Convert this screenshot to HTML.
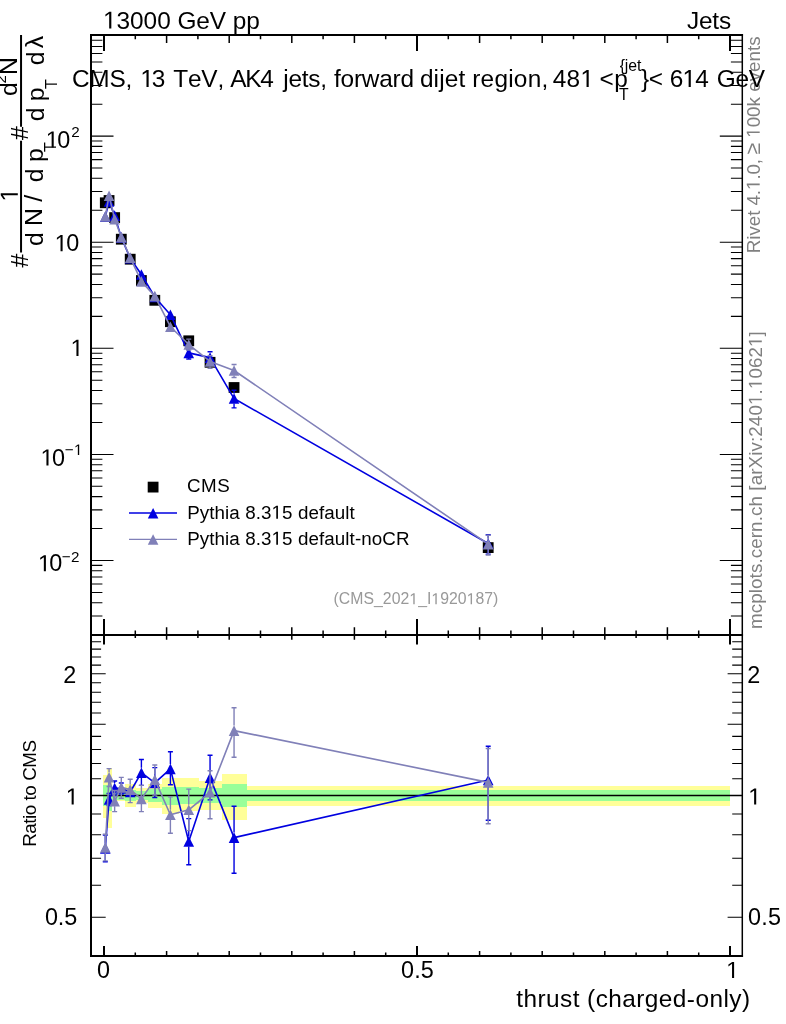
<!DOCTYPE html>
<html><head><meta charset="utf-8"><title>plot</title>
<style>html,body{margin:0;padding:0;background:#fff}svg{display:block;will-change:transform}</style>
</head><body>
<svg width="786" height="1024" viewBox="0 0 786 1024">
<rect x="0" y="0" width="786" height="1024" fill="#ffffff"/>
<g shape-rendering="crispEdges">
<rect x="103.1" y="775.0" width="3.5" height="42.6" fill="#ffff99"/>
<rect x="106.6" y="768.2" width="5.0" height="59.6" fill="#ffff99"/>
<rect x="111.6" y="789.8" width="6.3" height="11.2" fill="#ffff99"/>
<rect x="117.9" y="790.0" width="6.9" height="10.8" fill="#ffff99"/>
<rect x="124.8" y="784.0" width="10.7" height="22.9" fill="#ffff99"/>
<rect x="135.5" y="787.6" width="12.2" height="15.7" fill="#ffff99"/>
<rect x="147.7" y="783.5" width="14.1" height="24.9" fill="#ffff99"/>
<rect x="161.8" y="778.2" width="17.1" height="35.8" fill="#ffff99"/>
<rect x="178.9" y="778.0" width="19.7" height="33.3" fill="#ffff99"/>
<rect x="198.6" y="780.6" width="22.9" height="29.8" fill="#ffff99"/>
<rect x="221.5" y="774.1" width="25.2" height="45.6" fill="#ffff99"/>
<rect x="246.7" y="786.2" width="483.1" height="19.3" fill="#ffff99"/>
<rect x="103.1" y="785.2" width="3.5" height="21.1" fill="#99ff99"/>
<rect x="106.6" y="785.2" width="5.0" height="25.4" fill="#99ff99"/>
<rect x="111.6" y="791.5" width="6.3" height="8.1" fill="#99ff99"/>
<rect x="117.9" y="791.6" width="6.9" height="7.9" fill="#99ff99"/>
<rect x="124.8" y="789.6" width="10.7" height="11.7" fill="#99ff99"/>
<rect x="135.5" y="791.1" width="12.2" height="9.2" fill="#99ff99"/>
<rect x="147.7" y="789.0" width="14.1" height="13.3" fill="#99ff99"/>
<rect x="161.8" y="786.6" width="17.1" height="18.3" fill="#99ff99"/>
<rect x="178.9" y="786.5" width="19.7" height="17.9" fill="#99ff99"/>
<rect x="198.6" y="787.8" width="22.9" height="15.3" fill="#99ff99"/>
<rect x="221.5" y="784.2" width="25.2" height="22.5" fill="#99ff99"/>
<rect x="246.7" y="790.2" width="483.1" height="10.6" fill="#99ff99"/>
</g>
<line x1="91.0" y1="795.6" x2="742.3" y2="795.6" stroke="#000" stroke-width="1.5"/>
<g id="main">
<rect x="99.90" y="197.40" width="10.80" height="10.80" fill="#000"/>
<rect x="103.65" y="195.10" width="10.80" height="10.80" fill="#000"/>
<rect x="109.25" y="212.20" width="10.80" height="10.80" fill="#000"/>
<rect x="115.90" y="233.80" width="10.80" height="10.80" fill="#000"/>
<rect x="124.80" y="253.80" width="10.80" height="10.80" fill="#000"/>
<rect x="136.00" y="275.10" width="10.80" height="10.80" fill="#000"/>
<rect x="149.40" y="294.90" width="10.80" height="10.80" fill="#000"/>
<rect x="165.00" y="316.30" width="10.80" height="10.80" fill="#000"/>
<rect x="183.35" y="335.40" width="10.80" height="10.80" fill="#000"/>
<rect x="204.65" y="356.90" width="10.80" height="10.80" fill="#000"/>
<rect x="228.65" y="382.10" width="10.80" height="10.80" fill="#000"/>
<rect x="482.80" y="542.20" width="10.80" height="10.80" fill="#000"/>
<path d="M105.30,216.67 L109.05,201.52 L114.65,215.63 L121.30,237.36 L130.20,258.28 L141.40,274.52 L154.80,297.00 L170.40,314.72 L188.75,352.86 L210.05,357.61 L234.05,398.54 L488.20,543.54" fill="none" stroke="#0000e0" stroke-width="1.6" stroke-linejoin="round"/>
<path d="M188.75,347.86 V346.86 M186.25,346.86 h5.00 M188.75,357.86 V358.95 M186.25,358.95 h5.00 " stroke="#0000e0" stroke-width="1.4" fill="none"/>
<path d="M210.05,352.61 V351.73 M207.55,351.73 h5.00 M210.05,362.61 V363.45 M207.55,363.45 h5.00 " stroke="#0000e0" stroke-width="1.4" fill="none"/>
<path d="M234.05,393.54 V390.31 M231.55,390.31 h5.00 M234.05,403.54 V407.88 M231.55,407.88 h5.00 " stroke="#0000e0" stroke-width="1.4" fill="none"/>
<path d="M488.20,538.54 V534.70 M485.70,534.70 h5.00 M488.20,548.54 V554.08 M485.70,554.08 h5.00 " stroke="#0000e0" stroke-width="1.4" fill="none"/>
<path d="M100.00,221.97 L110.60,221.97 L105.30,211.37 Z" fill="#0000e0"/>
<path d="M103.75,206.82 L114.35,206.82 L109.05,196.22 Z" fill="#0000e0"/>
<path d="M109.35,220.93 L119.95,220.93 L114.65,210.33 Z" fill="#0000e0"/>
<path d="M116.00,242.66 L126.60,242.66 L121.30,232.06 Z" fill="#0000e0"/>
<path d="M124.90,263.58 L135.50,263.58 L130.20,252.98 Z" fill="#0000e0"/>
<path d="M136.10,279.82 L146.70,279.82 L141.40,269.22 Z" fill="#0000e0"/>
<path d="M149.50,302.30 L160.10,302.30 L154.80,291.70 Z" fill="#0000e0"/>
<path d="M165.10,320.02 L175.70,320.02 L170.40,309.42 Z" fill="#0000e0"/>
<path d="M183.45,358.16 L194.05,358.16 L188.75,347.56 Z" fill="#0000e0"/>
<path d="M204.75,362.91 L215.35,362.91 L210.05,352.31 Z" fill="#0000e0"/>
<path d="M228.75,403.84 L239.35,403.84 L234.05,393.24 Z" fill="#0000e0"/>
<path d="M482.90,548.84 L493.50,548.84 L488.20,538.24 Z" fill="#0000e0"/>
<path d="M105.30,216.44 L109.05,195.73 L114.65,219.09 L121.30,237.08 L130.20,257.65 L141.40,281.39 L154.80,296.13 L170.40,326.73 L188.75,344.55 L210.05,361.46 L234.05,370.48 L488.20,544.16" fill="none" stroke="#8080b8" stroke-width="1.6" stroke-linejoin="round"/>
<path d="M188.75,339.55 V339.12 M186.25,339.12 h5.00 M188.75,349.55 V350.00 M186.25,350.00 h5.00 " stroke="#8080b8" stroke-width="1.4" fill="none"/>
<path d="M210.05,356.46 V355.82 M207.55,355.82 h5.00 M210.05,366.46 V368.41 M207.55,368.41 h5.00 " stroke="#8080b8" stroke-width="1.4" fill="none"/>
<path d="M234.05,365.48 V364.48 M231.55,364.48 h5.00 M234.05,375.48 V377.46 M231.55,377.46 h5.00 " stroke="#8080b8" stroke-width="1.4" fill="none"/>
<path d="M488.20,539.16 V535.27 M485.70,535.27 h5.00 M488.20,549.16 V555.02 M485.70,555.02 h5.00 " stroke="#8080b8" stroke-width="1.4" fill="none"/>
<path d="M100.00,221.74 L110.60,221.74 L105.30,211.14 Z" fill="#8080b8"/>
<path d="M103.75,201.03 L114.35,201.03 L109.05,190.43 Z" fill="#8080b8"/>
<path d="M109.35,224.39 L119.95,224.39 L114.65,213.79 Z" fill="#8080b8"/>
<path d="M116.00,242.38 L126.60,242.38 L121.30,231.78 Z" fill="#8080b8"/>
<path d="M124.90,262.95 L135.50,262.95 L130.20,252.35 Z" fill="#8080b8"/>
<path d="M136.10,286.69 L146.70,286.69 L141.40,276.09 Z" fill="#8080b8"/>
<path d="M149.50,301.43 L160.10,301.43 L154.80,290.83 Z" fill="#8080b8"/>
<path d="M165.10,332.03 L175.70,332.03 L170.40,321.43 Z" fill="#8080b8"/>
<path d="M183.45,349.85 L194.05,349.85 L188.75,339.25 Z" fill="#8080b8"/>
<path d="M204.75,366.76 L215.35,366.76 L210.05,356.16 Z" fill="#8080b8"/>
<path d="M228.75,375.78 L239.35,375.78 L234.05,365.18 Z" fill="#8080b8"/>
<path d="M482.90,549.46 L493.50,549.46 L488.20,538.86 Z" fill="#8080b8"/>
</g>
<g id="ratio">
<path d="M105.30,848.40 L109.05,799.40 L114.65,788.00 L121.30,788.50 L130.20,792.00 L141.40,772.70 L154.80,782.90 L170.40,768.90 L188.75,841.50 L210.05,777.60 L234.05,837.60 L488.20,780.00" fill="none" stroke="#0000e0" stroke-width="1.6" stroke-linejoin="round"/>
<path d="M105.30,843.40 V835.00 M102.80,835.00 h5.00 M105.30,853.40 V861.80 M102.80,861.80 h5.00 " stroke="#0000e0" stroke-width="1.4" fill="none"/>
<path d="M109.05,794.40 V793.50 M106.55,793.50 h5.00 M109.05,804.40 V805.50 M106.55,805.50 h5.00 " stroke="#0000e0" stroke-width="1.4" fill="none"/>
<path d="M114.65,783.00 V781.00 M112.15,781.00 h5.00 M114.65,793.00 V795.00 M112.15,795.00 h5.00 " stroke="#0000e0" stroke-width="1.4" fill="none"/>
<path d="M121.30,783.50 V783.00 M118.80,783.00 h5.00 M121.30,793.50 V794.00 M118.80,794.00 h5.00 " stroke="#0000e0" stroke-width="1.4" fill="none"/>
<path d="M141.40,767.70 V759.50 M138.90,759.50 h5.00 M141.40,777.70 V785.40 M138.90,785.40 h5.00 " stroke="#0000e0" stroke-width="1.4" fill="none"/>
<path d="M154.80,777.90 V767.60 M152.30,767.60 h5.00 M154.80,787.90 V797.60 M152.30,797.60 h5.00 " stroke="#0000e0" stroke-width="1.4" fill="none"/>
<path d="M170.40,763.90 V751.80 M167.90,751.80 h5.00 M170.40,773.90 V784.70 M167.90,784.70 h5.00 " stroke="#0000e0" stroke-width="1.4" fill="none"/>
<path d="M188.75,836.50 V818.60 M186.25,818.60 h5.00 M188.75,846.50 V864.70 M186.25,864.70 h5.00 " stroke="#0000e0" stroke-width="1.4" fill="none"/>
<path d="M210.05,772.60 V755.20 M207.55,755.20 h5.00 M210.05,782.60 V799.90 M207.55,799.90 h5.00 " stroke="#0000e0" stroke-width="1.4" fill="none"/>
<path d="M234.05,832.60 V806.20 M231.55,806.20 h5.00 M234.05,842.60 V873.20 M231.55,873.20 h5.00 " stroke="#0000e0" stroke-width="1.4" fill="none"/>
<path d="M488.20,775.00 V746.30 M485.70,746.30 h5.00 M488.20,785.00 V820.20 M485.70,820.20 h5.00 " stroke="#0000e0" stroke-width="1.4" fill="none"/>
<path d="M100.00,853.70 L110.60,853.70 L105.30,843.10 Z" fill="#0000e0"/>
<path d="M103.75,804.70 L114.35,804.70 L109.05,794.10 Z" fill="#0000e0"/>
<path d="M109.35,793.30 L119.95,793.30 L114.65,782.70 Z" fill="#0000e0"/>
<path d="M116.00,793.80 L126.60,793.80 L121.30,783.20 Z" fill="#0000e0"/>
<path d="M124.90,797.30 L135.50,797.30 L130.20,786.70 Z" fill="#0000e0"/>
<path d="M136.10,778.00 L146.70,778.00 L141.40,767.40 Z" fill="#0000e0"/>
<path d="M149.50,788.20 L160.10,788.20 L154.80,777.60 Z" fill="#0000e0"/>
<path d="M165.10,774.20 L175.70,774.20 L170.40,763.60 Z" fill="#0000e0"/>
<path d="M183.45,846.80 L194.05,846.80 L188.75,836.20 Z" fill="#0000e0"/>
<path d="M204.75,782.90 L215.35,782.90 L210.05,772.30 Z" fill="#0000e0"/>
<path d="M228.75,842.90 L239.35,842.90 L234.05,832.30 Z" fill="#0000e0"/>
<path d="M482.90,785.30 L493.50,785.30 L488.20,774.70 Z" fill="#0000e0"/>
<path d="M105.30,847.50 L109.05,777.30 L114.65,801.20 L121.30,787.40 L130.20,789.60 L141.40,798.90 L154.80,779.60 L170.40,814.70 L188.75,809.80 L210.05,792.30 L234.05,730.60 L488.20,782.40" fill="none" stroke="#8080b8" stroke-width="1.6" stroke-linejoin="round"/>
<path d="M105.30,842.50 V834.20 M102.80,834.20 h5.00 M105.30,852.50 V860.90 M102.80,860.90 h5.00 " stroke="#8080b8" stroke-width="1.4" fill="none"/>
<path d="M109.05,772.30 V768.60 M106.55,768.60 h5.00 M109.05,782.30 V786.50 M106.55,786.50 h5.00 " stroke="#8080b8" stroke-width="1.4" fill="none"/>
<path d="M114.65,796.20 V790.50 M112.15,790.50 h5.00 M114.65,806.20 V811.60 M112.15,811.60 h5.00 " stroke="#8080b8" stroke-width="1.4" fill="none"/>
<path d="M121.30,782.40 V777.40 M118.80,777.40 h5.00 M121.30,792.40 V798.20 M118.80,798.20 h5.00 " stroke="#8080b8" stroke-width="1.4" fill="none"/>
<path d="M130.20,784.60 V779.20 M127.70,779.20 h5.00 M130.20,794.60 V802.60 M127.70,802.60 h5.00 " stroke="#8080b8" stroke-width="1.4" fill="none"/>
<path d="M141.40,793.90 V785.40 M138.90,785.40 h5.00 M141.40,803.90 V811.60 M138.90,811.60 h5.00 " stroke="#8080b8" stroke-width="1.4" fill="none"/>
<path d="M154.80,774.60 V765.00 M152.30,765.00 h5.00 M154.80,784.60 V795.00 M152.30,795.00 h5.00 " stroke="#8080b8" stroke-width="1.4" fill="none"/>
<path d="M170.40,809.70 V796.90 M167.90,796.90 h5.00 M170.40,819.70 V833.30 M167.90,833.30 h5.00 " stroke="#8080b8" stroke-width="1.4" fill="none"/>
<path d="M188.75,804.80 V789.10 M186.25,789.10 h5.00 M188.75,814.80 V830.60 M186.25,830.60 h5.00 " stroke="#8080b8" stroke-width="1.4" fill="none"/>
<path d="M210.05,787.30 V770.80 M207.55,770.80 h5.00 M210.05,797.30 V818.80 M207.55,818.80 h5.00 " stroke="#8080b8" stroke-width="1.4" fill="none"/>
<path d="M234.05,725.60 V707.70 M231.55,707.70 h5.00 M234.05,735.60 V757.20 M231.55,757.20 h5.00 " stroke="#8080b8" stroke-width="1.4" fill="none"/>
<path d="M488.20,777.40 V748.50 M485.70,748.50 h5.00 M488.20,787.40 V823.80 M485.70,823.80 h5.00 " stroke="#8080b8" stroke-width="1.4" fill="none"/>
<path d="M100.00,852.80 L110.60,852.80 L105.30,842.20 Z" fill="#8080b8"/>
<path d="M103.75,782.60 L114.35,782.60 L109.05,772.00 Z" fill="#8080b8"/>
<path d="M109.35,806.50 L119.95,806.50 L114.65,795.90 Z" fill="#8080b8"/>
<path d="M116.00,792.70 L126.60,792.70 L121.30,782.10 Z" fill="#8080b8"/>
<path d="M124.90,794.90 L135.50,794.90 L130.20,784.30 Z" fill="#8080b8"/>
<path d="M136.10,804.20 L146.70,804.20 L141.40,793.60 Z" fill="#8080b8"/>
<path d="M149.50,784.90 L160.10,784.90 L154.80,774.30 Z" fill="#8080b8"/>
<path d="M165.10,820.00 L175.70,820.00 L170.40,809.40 Z" fill="#8080b8"/>
<path d="M183.45,815.10 L194.05,815.10 L188.75,804.50 Z" fill="#8080b8"/>
<path d="M204.75,797.60 L215.35,797.60 L210.05,787.00 Z" fill="#8080b8"/>
<path d="M228.75,735.90 L239.35,735.90 L234.05,725.30 Z" fill="#8080b8"/>
<path d="M482.90,787.70 L493.50,787.70 L488.20,777.10 Z" fill="#8080b8"/>
</g>
<g stroke="#000" fill="none">
<path d="M91.0,35.0 V956.0 M90.0,35.0 H743.05 M90.0,635.0 H743.05 M90.0,956.0 H743.05" stroke-width="2" stroke-linecap="butt"/>
<path d="M742.3,34.0 V957.0" stroke-width="1.5"/>
<path d="M91.0,615.98 h11.4 M742.3,615.98 h-11.4 M91.0,602.72 h11.4 M742.3,602.72 h-11.4 M91.0,592.44 h11.4 M742.3,592.44 h-11.4 M91.0,584.04 h11.4 M742.3,584.04 h-11.4 M91.0,576.94 h11.4 M742.3,576.94 h-11.4 M91.0,570.78 h11.4 M742.3,570.78 h-11.4 M91.0,565.35 h11.4 M742.3,565.35 h-11.4 M91.0,560.50 h22.5 M742.3,560.50 h-22.5 M91.0,528.56 h11.4 M742.3,528.56 h-11.4 M91.0,509.88 h11.4 M742.3,509.88 h-11.4 M91.0,496.62 h11.4 M742.3,496.62 h-11.4 M91.0,486.34 h11.4 M742.3,486.34 h-11.4 M91.0,477.94 h11.4 M742.3,477.94 h-11.4 M91.0,470.84 h11.4 M742.3,470.84 h-11.4 M91.0,464.68 h11.4 M742.3,464.68 h-11.4 M91.0,459.25 h11.4 M742.3,459.25 h-11.4 M91.0,454.40 h22.5 M742.3,454.40 h-22.5 M91.0,422.46 h11.4 M742.3,422.46 h-11.4 M91.0,403.78 h11.4 M742.3,403.78 h-11.4 M91.0,390.52 h11.4 M742.3,390.52 h-11.4 M91.0,380.24 h11.4 M742.3,380.24 h-11.4 M91.0,371.84 h11.4 M742.3,371.84 h-11.4 M91.0,364.74 h11.4 M742.3,364.74 h-11.4 M91.0,358.58 h11.4 M742.3,358.58 h-11.4 M91.0,353.15 h11.4 M742.3,353.15 h-11.4 M91.0,348.30 h22.5 M742.3,348.30 h-22.5 M91.0,316.36 h11.4 M742.3,316.36 h-11.4 M91.0,297.68 h11.4 M742.3,297.68 h-11.4 M91.0,284.42 h11.4 M742.3,284.42 h-11.4 M91.0,274.14 h11.4 M742.3,274.14 h-11.4 M91.0,265.74 h11.4 M742.3,265.74 h-11.4 M91.0,258.64 h11.4 M742.3,258.64 h-11.4 M91.0,252.48 h11.4 M742.3,252.48 h-11.4 M91.0,247.05 h11.4 M742.3,247.05 h-11.4 M91.0,242.20 h22.5 M742.3,242.20 h-22.5 M91.0,210.26 h11.4 M742.3,210.26 h-11.4 M91.0,191.58 h11.4 M742.3,191.58 h-11.4 M91.0,178.32 h11.4 M742.3,178.32 h-11.4 M91.0,168.04 h11.4 M742.3,168.04 h-11.4 M91.0,159.64 h11.4 M742.3,159.64 h-11.4 M91.0,152.54 h11.4 M742.3,152.54 h-11.4 M91.0,146.38 h11.4 M742.3,146.38 h-11.4 M91.0,140.95 h11.4 M742.3,140.95 h-11.4 M91.0,136.10 h22.5 M742.3,136.10 h-22.5 M91.0,104.16 h11.4 M742.3,104.16 h-11.4 M91.0,85.48 h11.4 M742.3,85.48 h-11.4 M91.0,72.22 h11.4 M742.3,72.22 h-11.4 M91.0,61.94 h11.4 M742.3,61.94 h-11.4 M91.0,53.54 h11.4 M742.3,53.54 h-11.4 M91.0,46.44 h11.4 M742.3,46.44 h-11.4 M91.0,40.28 h11.4 M742.3,40.28 h-11.4 M91.0,917.30 h14.7 M742.3,917.30 h-14.7 M91.0,885.26 h10.1 M742.3,885.26 h-10.1 M91.0,858.17 h10.1 M742.3,858.17 h-10.1 M91.0,834.71 h10.1 M742.3,834.71 h-10.1 M91.0,814.01 h10.1 M742.3,814.01 h-10.1 M91.0,795.50 h14.7 M742.3,795.50 h-14.7 M91.0,778.75 h10.1 M742.3,778.75 h-10.1 M91.0,763.46 h10.1 M742.3,763.46 h-10.1 M91.0,749.40 h10.1 M742.3,749.40 h-10.1 M91.0,736.38 h10.1 M742.3,736.38 h-10.1 M91.0,724.25 h14.7 M742.3,724.25 h-14.7 M91.0,712.91 h10.1 M742.3,712.91 h-10.1 M91.0,702.26 h10.1 M742.3,702.26 h-10.1 M91.0,692.22 h10.1 M742.3,692.22 h-10.1 M91.0,682.72 h10.1 M742.3,682.72 h-10.1 M91.0,673.70 h14.7 M742.3,673.70 h-14.7 M91.0,665.13 h10.1 M742.3,665.13 h-10.1 M91.0,656.96 h10.1 M742.3,656.96 h-10.1 M91.0,649.14 h10.1 M742.3,649.14 h-10.1 M91.0,641.67 h10.1 M742.3,641.67 h-10.1" stroke-width="1.05"/>
<path d="M104.00,35.0 v15.9 M104.00,619.10 V644.60 M104.00,956.0 v-10.1 M417.00,35.0 v15.9 M417.00,619.10 V644.60 M417.00,956.0 v-10.1 M730.00,35.0 v15.9 M730.00,619.10 V644.60 M730.00,956.0 v-10.1" stroke-width="2"/>
<path d="M135.30,35.0 v4.3 M135.30,630.60 V637.90 M135.30,956.0 v-3.5 M166.60,35.0 v8.0 M166.60,627.20 V639.80 M166.60,956.0 v-5.1 M197.90,35.0 v4.3 M197.90,630.60 V637.90 M197.90,956.0 v-3.5 M229.20,35.0 v8.0 M229.20,627.20 V639.80 M229.20,956.0 v-5.1 M260.50,35.0 v4.3 M260.50,630.60 V637.90 M260.50,956.0 v-3.5 M291.80,35.0 v8.0 M291.80,627.20 V639.80 M291.80,956.0 v-5.1 M323.10,35.0 v4.3 M323.10,630.60 V637.90 M323.10,956.0 v-3.5 M354.40,35.0 v8.0 M354.40,627.20 V639.80 M354.40,956.0 v-5.1 M385.70,35.0 v4.3 M385.70,630.60 V637.90 M385.70,956.0 v-3.5 M448.30,35.0 v4.3 M448.30,630.60 V637.90 M448.30,956.0 v-3.5 M479.60,35.0 v8.0 M479.60,627.20 V639.80 M479.60,956.0 v-5.1 M510.90,35.0 v4.3 M510.90,630.60 V637.90 M510.90,956.0 v-3.5 M542.20,35.0 v8.0 M542.20,627.20 V639.80 M542.20,956.0 v-5.1 M573.50,35.0 v4.3 M573.50,630.60 V637.90 M573.50,956.0 v-3.5 M604.80,35.0 v8.0 M604.80,627.20 V639.80 M604.80,956.0 v-5.1 M636.10,35.0 v4.3 M636.10,630.60 V637.90 M636.10,956.0 v-3.5 M667.40,35.0 v8.0 M667.40,627.20 V639.80 M667.40,956.0 v-5.1 M698.70,35.0 v4.3 M698.70,630.60 V637.90 M698.70,956.0 v-3.5" stroke-width="1.5"/>
</g>
<g transform="translate(759.7,251.70) rotate(-90)"><text x="-1.54 11.98 16.09 25.43 35.83 46.16 56.55 72.11 77.28" y="0" font-family="Liberation Sans, sans-serif" font-size="18.8" fill="#808080">Rivet4..0</text><path transform="translate(61.72,0) scale(0.00918)" d="M515,-1237 L197,-1010 L197,-1180 L530,-1409 L696,-1409 L696,0 L515,0 Z" fill="#808080"/></g>
<g transform="translate(759.7,162.60) rotate(-90)"><text x="-1.69" y="0" font-family="Liberation Sans, sans-serif" font-size="18.8" fill="#808080">,</text></g>
<g transform="translate(759.9,153.90) rotate(-90)"><text x="-0.67" y="0" font-family="Liberation Sans, sans-serif" font-size="21.0" fill="#808080">≥</text></g>
<g transform="translate(759.7,136.00) rotate(-90)"><text x="8.66 19.12 29.59 44.24 54.70 64.11 74.58 85.05 90.28" y="0" font-family="Liberation Sans, sans-serif" font-size="18.8" fill="#808080">00kevents</text><path transform="translate(-1.81,0) scale(0.00918)" d="M515,-1237 L197,-1010 L197,-1180 L530,-1409 L696,-1409 L696,0 L515,0 Z" fill="#808080"/></g>
<g transform="translate(761.8,627.80) rotate(-90)"><text x="-1.25 14.51 24.01 34.56 38.83 49.38 54.70 64.20 69.52 79.02 89.57 95.93 106.48 111.80 121.30 137.17 142.49 153.04 159.40 172.03 176.31 185.81 191.13 201.68 212.23 233.33 249.21 259.76 270.31 291.42" y="0" font-family="Liberation Sans, sans-serif" font-size="18.8" fill="#808080">mcplots.cern.ch[arXiv:240.062]</text><path transform="translate(222.78,0) scale(0.00918)" d="M515,-1237 L197,-1010 L197,-1180 L530,-1409 L696,-1409 L696,0 L515,0 Z" fill="#808080"/><path transform="translate(238.65,0) scale(0.00918)" d="M515,-1237 L197,-1010 L197,-1180 L530,-1409 L696,-1409 L696,0 L515,0 Z" fill="#808080"/><path transform="translate(280.86,0) scale(0.00918)" d="M515,-1237 L197,-1010 L197,-1180 L530,-1409 L696,-1409 L696,0 L515,0 Z" fill="#808080"/></g>
<g transform="translate(105.40,28.6)"><text x="11.18 24.70 38.23 51.75 72.01 90.94 104.47 127.43 140.95" y="0" font-family="Liberation Sans, sans-serif" font-size="24.4" fill="#000">3000GeVpp</text><path transform="translate(-2.35,0) scale(0.01191)" d="M515,-1237 L197,-1010 L197,-1180 L530,-1409 L696,-1409 L696,0 L515,0 Z" fill="#000"/></g>
<g transform="translate(687.30,28.7)"><text x="-0.38 11.62 25.00 31.58" y="0" font-family="Liberation Sans, sans-serif" font-size="24.4" fill="#000">Jets</text></g>
<g transform="translate(73.20,86.9)"><text x="-1.24 16.13 36.19 52.21" y="0" font-family="Liberation Sans, sans-serif" font-size="24.4" fill="#000">CMS,</text></g>
<g transform="translate(142.70,86.9)"><text x="9.10" y="0" font-family="Liberation Sans, sans-serif" font-size="24.4" fill="#000">3</text><path transform="translate(-2.35,0) scale(0.01191)" d="M515,-1237 L197,-1010 L197,-1180 L530,-1409 L696,-1409 L696,0 L515,0 Z" fill="#000"/></g>
<g transform="translate(173.70,86.9)"><text x="-0.55 14.23 27.67 43.81" y="0" font-family="Liberation Sans, sans-serif" font-size="24.4" fill="#000">TeV,</text></g>
<g transform="translate(230.40,86.9)"><text x="-0.05 14.85 29.74" y="0" font-family="Liberation Sans, sans-serif" font-size="24.4" fill="#000">AK4</text></g>
<g transform="translate(282.60,86.9)"><text x="0.60 5.80 19.16 25.73 37.71" y="0" font-family="Liberation Sans, sans-serif" font-size="24.4" fill="#000">jets,</text></g>
<g transform="translate(334.40,86.9)"><text x="-0.35 6.19 19.52 27.41 44.79 58.12 66.00" y="0" font-family="Liberation Sans, sans-serif" font-size="24.4" fill="#000">forward</text></g>
<g transform="translate(420.90,86.9)"><text x="-1.02 12.68 18.24 23.79 37.50" y="0" font-family="Liberation Sans, sans-serif" font-size="24.4" fill="#000">dijet</text></g>
<g transform="translate(473.80,86.9)"><text x="-1.62 6.76 20.58 34.40 40.07 53.89 67.71" y="0" font-family="Liberation Sans, sans-serif" font-size="24.4" fill="#000">region,</text></g>
<g transform="translate(553.20,86.9)"><text x="-0.56 13.32" y="0" font-family="Liberation Sans, sans-serif" font-size="24.4" fill="#000">48</text><path transform="translate(27.21,0) scale(0.01191)" d="M515,-1237 L197,-1010 L197,-1180 L530,-1409 L696,-1409 L696,0 L515,0 Z" fill="#000"/></g>
<g transform="translate(600.60,86.9)"><text x="-1.20 13.75" y="0" font-family="Liberation Sans, sans-serif" font-size="24.4" fill="#000">&lt;p</text></g>
<g transform="translate(641.50,86.9)"><text x="-0.41 7.34" y="0" font-family="Liberation Sans, sans-serif" font-size="24.4" fill="#000">}&lt;</text></g>
<g transform="translate(671.00,86.9)"><text x="-1.24 24.24" y="0" font-family="Liberation Sans, sans-serif" font-size="24.4" fill="#000">64</text><path transform="translate(11.50,0) scale(0.01191)" d="M515,-1237 L197,-1010 L197,-1180 L530,-1409 L696,-1409 L696,0 L515,0 Z" fill="#000"/></g>
<g transform="translate(718.00,86.9)"><text x="-1.23 17.51 30.83" y="0" font-family="Liberation Sans, sans-serif" font-size="24.4" fill="#000">GeV</text></g>
<g transform="translate(619.90,70.5)"><text x="-0.26 4.95 8.40 17.13" y="0" font-family="Liberation Sans, sans-serif" font-size="15.8" fill="#000">{jet</text></g>
<g transform="translate(619.30,99.6)"><text x="-0.35" y="0" font-family="Liberation Sans, sans-serif" font-size="15.8" fill="#000">T</text></g>
<g transform="translate(48.00,147.5)"><text x="9.30" y="0" font-family="Liberation Sans, sans-serif" font-size="23.4" fill="#000">0</text><path transform="translate(-2.25,0) scale(0.01143)" d="M515,-1237 L197,-1010 L197,-1180 L530,-1409 L696,-1409 L696,0 L515,0 Z" fill="#000"/></g>
<g transform="translate(71.90,137.0)"><text x="-0.76" y="0" font-family="Liberation Sans, sans-serif" font-size="15.2" fill="#000">2</text></g>
<g transform="translate(56.90,251.2)"><text x="9.40" y="0" font-family="Liberation Sans, sans-serif" font-size="23.4" fill="#000">0</text><path transform="translate(-2.25,0) scale(0.01143)" d="M515,-1237 L197,-1010 L197,-1180 L530,-1409 L696,-1409 L696,0 L515,0 Z" fill="#000"/></g>
<g transform="translate(72.80,355.9)"><path transform="translate(-2.25,0) scale(0.01143)" d="M515,-1237 L197,-1010 L197,-1180 L530,-1409 L696,-1409 L696,0 L515,0 Z" fill="#000"/></g>
<g transform="translate(42.80,465.5)"><text x="9.20" y="0" font-family="Liberation Sans, sans-serif" font-size="23.4" fill="#000">0</text><path transform="translate(-2.25,0) scale(0.01143)" d="M515,-1237 L197,-1010 L197,-1180 L530,-1409 L696,-1409 L696,0 L515,0 Z" fill="#000"/></g>
<g transform="translate(65.60,455.0)"><text x="-0.75" y="0" font-family="Liberation Sans, sans-serif" font-size="15.2" fill="#000">−</text><path transform="translate(8.43,0) scale(0.00742)" d="M515,-1237 L197,-1010 L197,-1180 L530,-1409 L696,-1409 L696,0 L515,0 Z" fill="#000"/></g>
<g transform="translate(40.20,571.3)"><text x="8.95" y="0" font-family="Liberation Sans, sans-serif" font-size="23.4" fill="#000">0</text><path transform="translate(-2.25,0) scale(0.01143)" d="M515,-1237 L197,-1010 L197,-1180 L530,-1409 L696,-1409 L696,0 L515,0 Z" fill="#000"/></g>
<g transform="translate(62.50,562.4)"><text x="-0.75 8.56" y="0" font-family="Liberation Sans, sans-serif" font-size="15.2" fill="#000">−2</text></g>
<g transform="translate(64.40,683.0)"><text x="-1.18" y="0" font-family="Liberation Sans, sans-serif" font-size="23.4" fill="#000">2</text></g>
<g transform="translate(748.50,682.9)"><text x="-1.18" y="0" font-family="Liberation Sans, sans-serif" font-size="23.4" fill="#000">2</text></g>
<g transform="translate(68.00,804.6)"><path transform="translate(-2.25,0) scale(0.01143)" d="M515,-1237 L197,-1010 L197,-1180 L530,-1409 L696,-1409 L696,0 L515,0 Z" fill="#000"/></g>
<g transform="translate(750.50,804.6)"><path transform="translate(-2.25,0) scale(0.01143)" d="M515,-1237 L197,-1010 L197,-1180 L530,-1409 L696,-1409 L696,0 L515,0 Z" fill="#000"/></g>
<g transform="translate(45.80,925.4)"><text x="-0.91 12.03 18.47" y="0" font-family="Liberation Sans, sans-serif" font-size="23.4" fill="#000">0.5</text></g>
<g transform="translate(749.00,925.3)"><text x="-0.91 12.28 18.97" y="0" font-family="Liberation Sans, sans-serif" font-size="23.4" fill="#000">0.5</text></g>
<g transform="translate(97.80,978.2)"><text x="-0.91" y="0" font-family="Liberation Sans, sans-serif" font-size="23.4" fill="#000">0</text></g>
<g transform="translate(401.90,978.2)"><text x="-0.91 12.28 18.97" y="0" font-family="Liberation Sans, sans-serif" font-size="23.4" fill="#000">0.5</text></g>
<g transform="translate(728.40,978.0)"><path transform="translate(-2.25,0) scale(0.01143)" d="M515,-1237 L197,-1010 L197,-1180 L530,-1409 L696,-1409 L696,0 L515,0 Z" fill="#000"/></g>
<g transform="translate(516.70,1006.5)"><text x="-0.37 6.84 20.84 29.39 43.39 56.02 70.43 78.99 91.61 105.61 119.61 128.16 142.16 156.16 170.16 178.71 192.71 206.71 212.56 225.19" y="0" font-family="Liberation Sans, sans-serif" font-size="24.4" fill="#000">thrust(charged-only)</text></g>
<g transform="translate(36.4,845.30) rotate(-90)"><text x="-1.54 11.59 21.60 26.38 30.11 44.90 49.68 64.47 77.61 92.82" y="0" font-family="Liberation Sans, sans-serif" font-size="18.8" fill="#000">RatiotoCMS</text></g>
<rect x="147.70" y="481.70" width="10.80" height="10.80" fill="#000"/>
<path d="M129,513.0 H177" stroke="#0000e0" stroke-width="1.35"/><path d="M147.80,518.60 L158.40,518.60 L153.10,508.00 Z" fill="#0000e0"/>
<path d="M129,539.3 H177" stroke="#8080b8" stroke-width="1.35"/><path d="M147.80,544.80 L158.40,544.80 L153.10,534.20 Z" fill="#8080b8"/>
<g transform="translate(187.90,492.3)"><text x="-0.95 13.14 29.32" y="0" font-family="Liberation Sans, sans-serif" font-size="18.8" fill="#000">CMS</text></g>
<g transform="translate(188.70,518.7)"><text x="-1.54 11.08 20.55 25.86 36.39 40.65 56.48 67.02 72.32 93.39 109.22 119.76 130.29 135.59 146.13 156.66 160.91" y="0" font-family="Liberation Sans, sans-serif" font-size="18.8" fill="#000">Pythia8.35default</text><path transform="translate(82.85,0) scale(0.00918)" d="M515,-1237 L197,-1010 L197,-1180 L530,-1409 L696,-1409 L696,0 L515,0 Z" fill="#000"/></g>
<g transform="translate(188.70,544.8)"><text x="-1.54 11.08 20.56 25.86 36.39 40.65 56.49 67.02 72.32 93.39 109.23 119.76 130.30 135.60 146.14 156.67 160.93 166.23 172.57 183.10 193.64 207.30" y="0" font-family="Liberation Sans, sans-serif" font-size="18.8" fill="#000">Pythia8.35default-noCR</text><path transform="translate(82.86,0) scale(0.00918)" d="M515,-1237 L197,-1010 L197,-1180 L530,-1409 L696,-1409 L696,0 L515,0 Z" fill="#000"/></g>
<g transform="translate(334.50,604.2)"><text x="-0.98 4.32 15.76 28.95 39.53 48.35 57.17 65.99 83.63 92.45 105.69 114.51 123.34 140.98 149.80 158.62" y="0" font-family="Liberation Sans, sans-serif" font-size="15.8" fill="#999999">(CMS_202_I92087)</text><path transform="translate(74.81,0) scale(0.00771)" d="M515,-1237 L197,-1010 L197,-1180 L530,-1409 L696,-1409 L696,0 L515,0 Z" fill="#999999"/><path transform="translate(96.87,0) scale(0.00771)" d="M515,-1237 L197,-1010 L197,-1180 L530,-1409 L696,-1409 L696,0 L515,0 Z" fill="#999999"/><path transform="translate(132.16,0) scale(0.00771)" d="M515,-1237 L197,-1010 L197,-1180 L530,-1409 L696,-1409 L696,0 L515,0 Z" fill="#999999"/></g>
<g>
<path d="M21.05,252.5 V140.7 M21.05,126.8 V34.9" stroke="#000" stroke-width="2" fill="none"/>
<g transform="translate(27.8,267.38) rotate(-90)"><text x="-0.11" y="0" font-family="Liberation Sans, sans-serif" font-size="24.8" fill="#000">#</text></g>
<g transform="translate(27.7,139.93) rotate(-90)"><text x="-0.11" y="0" font-family="Liberation Sans, sans-serif" font-size="24.8" fill="#000">#</text></g>
<g transform="translate(17.8,199.17) rotate(-90)"><path transform="translate(-2.39,0) scale(0.01211)" d="M515,-1237 L197,-1010 L197,-1180 L530,-1409 L696,-1409 L696,0 L515,0 Z" fill="#000"/></g>
<g transform="translate(42.5,244.93) rotate(-90)"><text x="-1.04" y="0" font-family="Liberation Sans, sans-serif" font-size="24.8" fill="#000">d</text></g>
<g transform="translate(42.3,224.03) rotate(-90)"><text x="-2.03" y="0" font-family="Liberation Sans, sans-serif" font-size="24.8" fill="#000">N</text></g>
<g transform="translate(42.3,201.75) rotate(-90)"><text x="-0.00" y="0" font-family="Liberation Sans, sans-serif" font-size="24.8" fill="#000">/</text></g>
<g transform="translate(42.6,181.23) rotate(-90)"><text x="-1.04" y="0" font-family="Liberation Sans, sans-serif" font-size="24.8" fill="#000">d</text></g>
<g transform="translate(42.6,160.48) rotate(-90)"><text x="-1.60" y="0" font-family="Liberation Sans, sans-serif" font-size="24.8" fill="#000">p</text></g>
<g transform="translate(55.7,151.72) rotate(-90)"><text x="-0.36" y="0" font-family="Liberation Sans, sans-serif" font-size="16.0" fill="#000">T</text></g>
<g transform="translate(43.5,120.28) rotate(-90)"><text x="-1.04" y="0" font-family="Liberation Sans, sans-serif" font-size="24.8" fill="#000">d</text></g>
<g transform="translate(43.5,99.78) rotate(-90)"><text x="-1.60" y="0" font-family="Liberation Sans, sans-serif" font-size="24.8" fill="#000">p</text></g>
<g transform="translate(56.9,88.72) rotate(-90)"><text x="-0.36" y="0" font-family="Liberation Sans, sans-serif" font-size="16.0" fill="#000">T</text></g>
<g transform="translate(43.5,64.18) rotate(-90)"><text x="-1.04" y="0" font-family="Liberation Sans, sans-serif" font-size="24.8" fill="#000">d</text></g>
<g transform="translate(43.3,48.01) rotate(-90)"><text x="-0.17" y="0" font-family="Liberation Sans, sans-serif" font-size="24.8" fill="#000">λ</text></g>
<g transform="translate(17.4,94.98) rotate(-90)"><text x="-1.04" y="0" font-family="Liberation Sans, sans-serif" font-size="24.8" fill="#000">d</text></g>
<g transform="translate(6.4,82.77) rotate(-90)"><text x="-0.75" y="0" font-family="Liberation Sans, sans-serif" font-size="15.0" fill="#000">2</text></g>
<g transform="translate(17.2,73.08) rotate(-90)"><text x="-2.03" y="0" font-family="Liberation Sans, sans-serif" font-size="24.8" fill="#000">N</text></g>
</g>
</svg>
</body></html>
